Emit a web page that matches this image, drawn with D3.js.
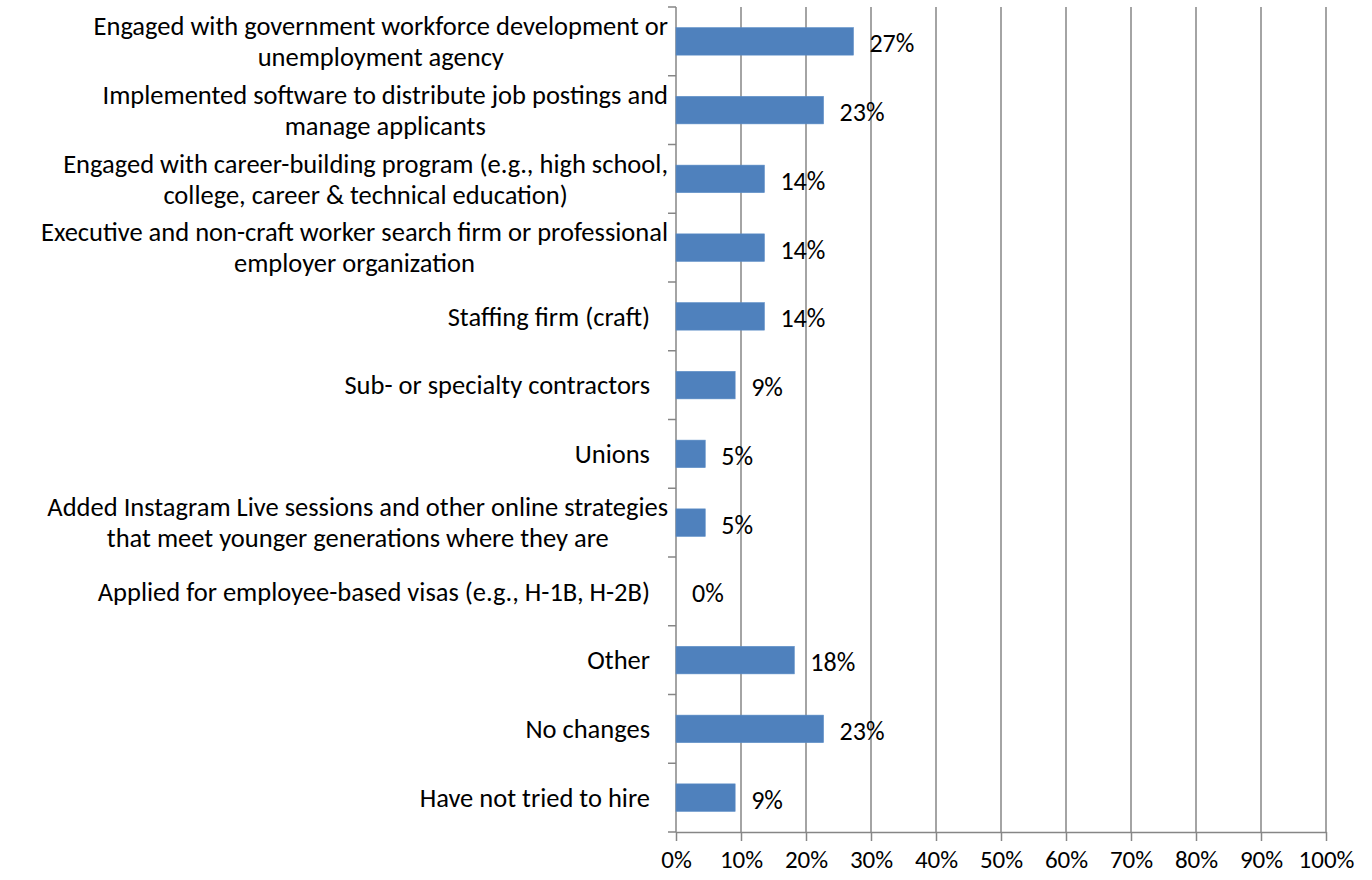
<!DOCTYPE html>
<html>
<head>
<meta charset="utf-8">
<script src="https://cdn.jsdelivr.net/npm/d3@7"></script>
<style>
  body { margin: 0; background: #fff; }
  text { font-family: Carlito, Lato, "Open Sans", sans-serif; fill: #000; }
</style>
</head>
<body>
<svg id="chart" width="1372" height="880"></svg>
<script>
// categories, top to bottom (each entry = wrapped lines as shown)
let categories = [
    ["Engaged with government workforce development or", "unemployment agency"],
    ["Implemented software to distribute job postings and", "manage applicants"],
    ["Engaged with career-building program (e.g., high school,", "college, career & technical education)"],
    ["Executive and non-craft worker search firm or professional", "employer organization"],
    ["Staffing firm (craft)"],
    ["Sub- or specialty contractors"],
    ["Unions"],
    ["Added Instagram Live sessions and other online strategies", "that meet younger generations where they are"],
    ["Applied for employee-based visas (e.g., H-1B, H-2B)"],
    ["Other"],
    ["No changes"],
    ["Have not tried to hire"]
];

// share of respondents, percent
let values = [27.3, 22.7, 13.6, 13.6, 13.6, 9.1, 4.5, 4.5, 0, 18.2, 22.7, 9.1];

let xTicks = [0, 10, 20, 30, 40, 50, 60, 70, 80, 90, 100];

let margin = {top: 7, right: 46, bottom: 48, left: 676},
    width = 1372 - margin.left - margin.right,
    height = 880 - margin.top - margin.bottom;

let svg = d3.select("#chart");
let g = svg.append("g").attr("transform", `translate(${margin.left},${margin.top})`);

let x = d3.scaleLinear().domain([0, 100]).range([0, width]);
let y = d3.scaleBand().domain(d3.range(categories.length)).range([0, height]).paddingInner(0.6).paddingOuter(0.3);
let rows = d3.scaleBand().domain(d3.range(categories.length)).range([0, height]);

let gridColor = "#868686";
let catSize = 26.5, tickSize = 25, valSize = 26;

// vertical gridlines
g.selectAll(".grid")
    .data(xTicks.filter(d => d > 0))
    .enter()
    .append("line")
    .attr("class", "grid")
    .attr("x1", d => x(d)).attr("x2", d => x(d))
    .attr("y1", 0).attr("y2", height)
    .attr("stroke", gridColor)
    .attr("stroke-width", 1.5);

// x axis
let xAxis = g.append("g")
    .attr("transform", `translate(0,${height})`)
    .call(d3.axisBottom(x).tickValues(xTicks).tickFormat(d => d + "%").tickSizeInner(9).tickSizeOuter(0).tickPadding(9));
xAxis.select(".domain").attr("stroke", gridColor).attr("stroke-width", 1.5);
xAxis.selectAll(".tick line").attr("stroke", gridColor).attr("stroke-width", 1.5);
xAxis.selectAll("text")
    .attr("font-family", null)
    .style("font-size", tickSize + "px")
    .attr("fill", "#000");

// y axis line + ticks at band edges
g.append("line")
    .attr("x1", 0).attr("x2", 0)
    .attr("y1", 0).attr("y2", height)
    .attr("stroke", gridColor)
    .attr("stroke-width", 1.5);
g.selectAll(".ytick")
    .data(d3.range(categories.length + 1))
    .enter()
    .append("line")
    .attr("class", "ytick")
    .attr("x1", -8).attr("x2", 0)
    .attr("y1", d => d * rows.step()).attr("y2", d => d * rows.step())
    .attr("stroke", gridColor)
    .attr("stroke-width", 1.5);

// bars
g.selectAll(".bar")
    .data(values)
    .enter()
    .append("rect")
    .attr("class", "bar")
    .attr("x", 0)
    .attr("y", (d, i) => y(i))
    .attr("width", d => x(d))
    .attr("height", y.bandwidth())
    .attr("fill", "#4F81BD")
    .attr("stroke", "#5B8CC6")
    .attr("stroke-width", 0.6);

// value labels
g.selectAll(".val")
    .data(values)
    .enter()
    .append("text")
    .attr("class", "val")
    .attr("x", d => x(d) + 16)
    .attr("y", (d, i) => y(i) + y.bandwidth() / 2 + 2)
    .attr("dy", "0.35em")
    .style("font-size", valSize + "px")
    .text(d => Math.round(d) + "%");

// category labels (wrapped lines centred within their block, block right-aligned)
let lineH = 31;
categories.forEach(function(lines, i) {
    let cy = rows(i) + rows.bandwidth() / 2;
    let lab = g.append("text")
        .attr("class", "cat")
        .style("font-size", catSize + "px");
    lines.forEach(function(line, j) {
        lab.append("tspan").text(line);
    });
    let widths = [];
    lab.selectAll("tspan").each(function() { widths.push(this.getComputedTextLength()); });
    let blockW = d3.max(widths);
    let right = lines.length > 1 ? -8 : -26;
    let cx = right - blockW / 2;
    lab.attr("text-anchor", "middle");
    lab.selectAll("tspan")
        .attr("x", cx)
        .attr("y", (d, j) => cy + (j - (lines.length - 1) / 2) * lineH)
        .attr("dy", "0.35em");
});
</script>
</body>
</html>
